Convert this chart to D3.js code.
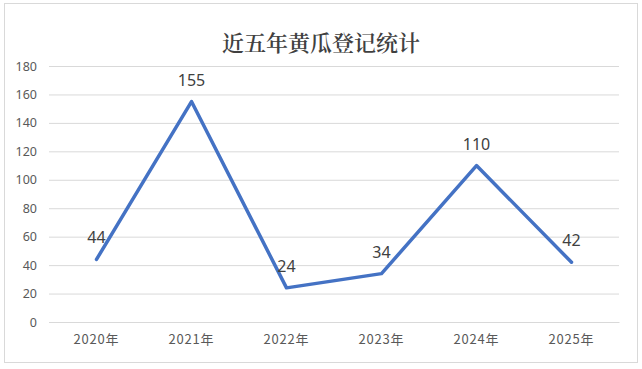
<!DOCTYPE html>
<html>
<head>
<meta charset="utf-8">
<script src="https://cdn.jsdelivr.net/npm/d3@7/dist/d3.min.js"></script>
<style>
  html, body { margin: 0; padding: 0; background: #fff; }
  svg { display: block; }
</style>
</head>
<body>
<svg id="chart" width="642" height="369"></svg>
<script>
// Registration counts per year
const categories = ["2020年", "2021年", "2022年", "2023年", "2024年", "2025年"];
const values = [44, 155, 24, 34, 110, 42];
const yTicks = [0, 20, 40, 60, 80, 100, 120, 140, 160, 180];
const title = "近五年黄瓜登记统计";

const svg = d3.select("#chart");
const plot = { left: 49, right: 619, top: 66, bottom: 322 };

// outer frame
svg.append("rect")
  .attr("x", 4.5).attr("y", 3.5)
  .attr("width", 633).attr("height", 359)
  .attr("fill", "#fff").attr("stroke", "#d9d9d9").attr("stroke-width", 1);

svg.append("text")
  .attr("x", 321).attr("y", 51)
  .attr("text-anchor", "middle")
  .attr("font-family", "'Noto Serif CJK SC', 'Noto Sans CJK SC', serif")
  .attr("font-size", 22)
  .attr("font-weight", 600)
  .attr("fill", "#404040")
  .text(title);

const x = d3.scaleBand().domain(categories).range([plot.left, plot.right]);
const y = d3.scaleLinear().domain([0, 180]).range([plot.bottom, plot.top]);

// horizontal gridlines with value labels
const yAxis = d3.axisLeft(y).tickValues(yTicks).tickSize(-(plot.right - plot.left)).tickPadding(12);
const gy = svg.append("g").attr("transform", `translate(${plot.left},0)`).call(yAxis);
gy.select(".domain").remove();
gy.selectAll(".tick line").attr("stroke", "#d9d9d9").attr("stroke-width", 1);
gy.selectAll(".tick text")
  .attr("fill", "#595959")
  .attr("font-family", "'Noto Sans', 'DejaVu Sans', sans-serif")
  .attr("font-size", 12.5);

// category axis
const xAxis = d3.axisBottom(x).tickSize(0).tickPadding(13);
const gx = svg.append("g").attr("transform", `translate(0,${plot.bottom})`).call(xAxis);
gx.select(".domain").attr("stroke", "#d9d9d9");
gx.selectAll(".tick text")
  .attr("fill", "#595959")
  .attr("font-family", "'Noto Sans CJK SC', 'Noto Sans', sans-serif")
  .attr("font-size", 13)
  .attr("letter-spacing", 0.8);

const cx = d => x(d) + x.bandwidth() / 2;

const line = d3.line()
  .x((d, i) => cx(categories[i]))
  .y(d => y(d));

svg.append("path")
  .datum(values)
  .attr("d", line)
  .attr("fill", "none")
  .attr("stroke", "#4472C4")
  .attr("stroke-width", 3.5)
  .attr("stroke-linejoin", "round")
  .attr("stroke-linecap", "round");

svg.append("g").selectAll("text")
  .data(values)
  .join("text")
  .attr("x", (d, i) => cx(categories[i]))
  .attr("y", d => y(d) - 16)
  .attr("text-anchor", "middle")
  .attr("font-family", "'Noto Sans', 'DejaVu Sans', sans-serif")
  .attr("font-size", 16)
  .attr("fill", "#404040")
  .text(d => d);
</script>
</body>
</html>
